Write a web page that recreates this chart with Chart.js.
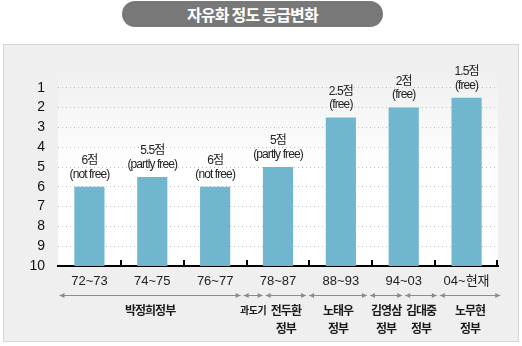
<!DOCTYPE html>
<html><head><meta charset="utf-8">
<script src="https://cdn.jsdelivr.net/npm/chart.js@4/dist/chart.umd.min.js"></script>
<style>
html,body{margin:0;padding:0;background:#fff;width:522px;height:346px;overflow:hidden;}
#panel{position:absolute;left:3px;top:44px;width:514px;height:296px;background:#efefef;border:1px solid #d6d6d6;}
#title{position:absolute;left:122px;top:1px;width:261px;height:26px;border-radius:13px;background:#787878;color:#fff;font:bold 16px "Noto Sans CJK KR",sans-serif;text-align:center;line-height:26px;letter-spacing:-0.8px;}
#wrap{position:absolute;left:0;top:0;width:522px;height:346px;}
</style></head><body>
<div id="panel"></div>
<div id="title">자유화 정도 등급변화</div>
<div id="wrap"><canvas id="c" width="522" height="346"></canvas></div>
<script>
const categories = ['72~73','74~75','76~77','78~87','88~93','94~03','04~현재'];
const scores = [6, 5.5, 6, 5, 2.5, 2, 1.5];
const scoreLabels = ['6점','5.5점','6점','5점','2.5점','2점','1.5점'];
const statusLabels = ['(not free)','(partly free)','(not free)','(partly free)','(free)','(free)','(free)'];
const yTicks = [1,2,3,4,5,6,7,8,9,10];
const worstScore = 10;
const governments = [['박정희정부'],['과도기'],['전두환','정부'],['노태우','정부'],['김영삼','정부'],['김대중','정부'],['노무현','정부']];
const govSpans = [[0,2.93],[2.93,3.28],[3.28,3.97],[3.97,4.94],[4.94,5.5],[5.5,6.05],[6.05,7.06]];

const decor = {
  id:'decor',
  beforeDraw(chart){
    const {ctx, chartArea:a} = chart;
    const g = ctx.createLinearGradient(0, a.top, 0, a.bottom);
    g.addColorStop(0, '#efefef');
    g.addColorStop(0.5, '#ffffff');
    g.addColorStop(1, '#ffffff');
    ctx.save(); ctx.fillStyle = g; ctx.fillRect(a.left, a.top, a.right - a.left, a.bottom - a.top); ctx.restore();
  },
  afterDraw(chart){
    const {ctx, chartArea:a} = chart;
    const xs = chart.scales.x;
    ctx.save();
    ctx.strokeStyle = '#000'; ctx.lineWidth = 2;
    for (let i = 1; i <= categories.length; i++) {
      const x = Math.round(xs.getPixelForValue(i - 0.5)) - (i === categories.length ? 1 : 0);
      ctx.beginPath(); ctx.moveTo(x, a.bottom); ctx.lineTo(x, a.bottom - 6); ctx.stroke();
    }
    const meta = chart.getDatasetMeta(0);
    ctx.fillStyle = '#222'; ctx.textAlign = 'center'; ctx.textBaseline = 'middle';
    ctx.font = '12px "Liberation Sans", "Noto Sans CJK KR", sans-serif';
    ctx.letterSpacing = '-0.9px';
    meta.data.forEach((bar, i) => {
      const top = Math.min(bar.y, bar.base);
      ctx.fillText(scoreLabels[i], bar.x, top - 26);
      ctx.fillText(statusLabels[i], bar.x, top - 12.5);
    });
    const ay = 295;
    ctx.strokeStyle = '#8c8c8c'; ctx.fillStyle = '#8c8c8c'; ctx.lineWidth = 1;
    const head = (x, dir) => { ctx.beginPath(); ctx.moveTo(x, ay + 0.5); ctx.lineTo(x - dir*5, ay - 2); ctx.lineTo(x - dir*5, ay + 3); ctx.closePath(); ctx.fill(); };
    govSpans.forEach((s, i) => {
      const x0 = xs.getPixelForValue(s[0] - 0.5) + 1.5;
      const x1 = xs.getPixelForValue(s[1] - 0.5) - 1.5;
      ctx.beginPath(); ctx.moveTo(x0, ay + 0.5); ctx.lineTo(x1, ay + 0.5); ctx.stroke();
      head(x0, -1); head(x1, 1);
      const cx = (x0 + x1) / 2;
      const small = (x1 - x0) < 30;
      ctx.fillStyle = '#1a1a1a';
      if (small) { ctx.font = 'bold 10px "Noto Sans CJK KR", sans-serif'; ctx.letterSpacing = '-0.5px'; }
      else { ctx.font = 'bold 12px "Noto Sans CJK KR", sans-serif'; ctx.letterSpacing = '-1px'; }
      governments[i].forEach((t, k) => ctx.fillText(t, cx, 310 + k * 18));
      ctx.fillStyle = '#8c8c8c';
    });
    ctx.restore();
  }
};

new Chart(document.getElementById('c'), {
  type: 'bar',
  data: {
    labels: categories,
    datasets: [{
      data: scores.map(v => [worstScore, v]),
      backgroundColor: '#70b6cf',
      borderWidth: 0,
      barPercentage: 0.48,
      categoryPercentage: 1
    }]
  },
  options: {
    responsive: false, animation: false, devicePixelRatio: 1,
    layout: { padding: { left: 0, top: 68, right: 24, bottom: 0 } },
    plugins: { legend: { display: false }, tooltip: { enabled: false }, title: { display: false } },
    scales: {
      x: {
        grid: { display: false, drawTicks: false },
        border: { display: true, color: '#000', width: 2 },
        ticks: { color: '#222', font: { family: '"Liberation Sans", Arial, "Noto Sans CJK KR"', size: 13 }, padding: 8 },
        afterFit: s => { s.height = 80; }
      },
      y: {
        reverse: true, min: 0, max: 10,
        afterBuildTicks: s => { s.ticks = yTicks.map(v => ({ value: v })); },
        grid: { drawTicks: false, color: c => (c.tick && c.tick.value === 10) ? 'rgba(0,0,0,0)' : '#bdbdbd' },
        border: { display: false, dash: [1, 3] },
        ticks: { color: '#111', font: { family: '"Liberation Sans", Arial', size: 14 }, padding: 13 },
        afterFit: s => { s.width = 58; }
      }
    }
  },
  plugins: [decor]
});
</script>
</body></html>
